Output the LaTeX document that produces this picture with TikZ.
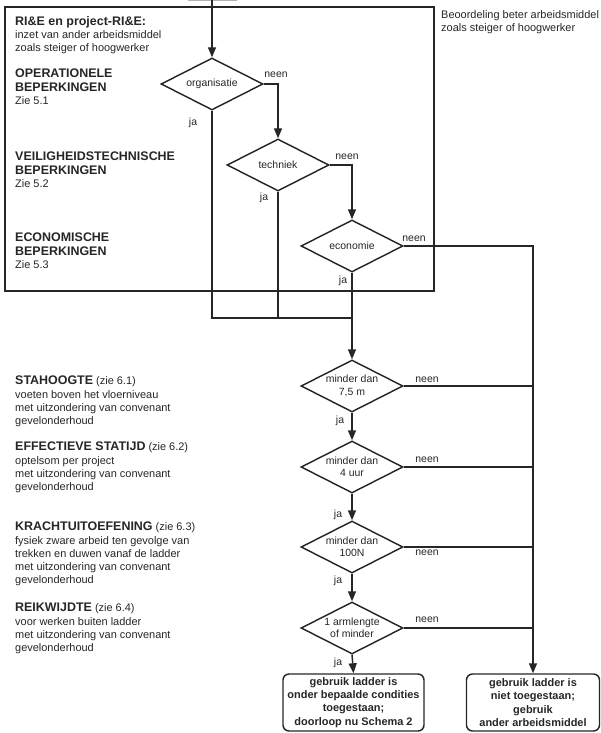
\documentclass[tikz,border=0pt]{standalone}
\usepackage{fontspec}
\setmainfont{Liberation Sans}
\usetikzlibrary{arrows.meta,shapes.geometric}
\definecolor{ink}{HTML}{262626}
\tikzset{
  ln/.style={draw=ink,line width=1.45bp},
  arr/.style={ln,-{Triangle[length=10bp,width=8bp]}},
  dia/.style={diamond,draw=ink,line width=1.45bp,inner sep=0pt,aspect=2,
    minimum width=102bp,minimum height=52bp,align=center,
    font=\fontsize{10.5}{12.5}\selectfont,text=ink},
  endbox/.style={rectangle,rounded corners=6bp,draw=ink,line width=1.45bp,
    inner sep=0pt,align=center,font=\fontsize{11}{13.3}\selectfont\bfseries,text=ink},
  lab/.style={font=\fontsize{10.5}{12}\selectfont,text=ink,inner sep=0pt},
  note/.style={anchor=north west,align=left,inner sep=0pt,text=ink,
    font=\fontsize{11}{13.3}\selectfont}
}
\newcommand{\hdtxt}[1]{{\fontsize{12.5}{14}\selectfont\bfseries #1}}
\begin{document}
\begin{tikzpicture}[x=1bp,y=-1bp]
\useasboundingbox (0,0) rectangle (601,733);
% frame
\draw[ln] (5,7) rectangle (434,291);
\draw[draw=gray!60,line width=1bp] (188,1) -- (237,1);
% diamonds
\node[dia] (org) at (212,84) {organisatie};
\node[dia] (tech) at (278,165) {techniek};
\node[dia] (econ) at (352,246) {economie};
\node[dia] (m75) at (352,386) {minder dan\\7,5 m};
\node[dia] (m4) at (352,467) {minder dan\\4 uur};
\node[dia] (m100) at (352,547) {minder dan\\100N};
\node[dia] (arm) at (352,628) {1 armlengte\\of minder};
% end boxes
\node[endbox,minimum width=141bp,minimum height=57bp] (lbox) at (353.5,702.5)
  {gebruik ladder is\\onder bepaalde condities\\toegestaan;\\doorloop nu Schema 2};
\node[endbox,minimum width=133bp,minimum height=57bp] (rbox) at (533,702.5)
  {gebruik ladder is\\niet toegestaan;\\gebruik\\ander arbeidsmiddel};
% connectors
\coordinate (top) at (212,0);
\coordinate (merge) at (352,318);
\draw[arr] (top) -- (org.north);
\draw[arr] (org.east) -| (tech.north);
\draw[arr] (tech.east) -| (econ.north);
\draw[ln] (org.south) |- (merge);
\draw[ln] (tech.south) -- (tech.south |- merge);
\draw[arr] (econ.south) -- (m75.north);
\draw[arr] (econ.east) -| (rbox.north);
\draw[ln] (m75.east) -- (m75.east -| rbox.north);
\draw[ln] (m4.east) -- (m4.east -| rbox.north);
\draw[ln] (m100.east) -- (m100.east -| rbox.north);
\draw[ln] (arm.east) -- (arm.east -| rbox.north);
\draw[arr] (m75.south) -- (m4.north);
\draw[arr] (m4.south) -- (m100.north);
\draw[arr] (m100.south) -- (arm.north);
\draw[arr] (arm.south) -- (lbox.north);
% labels
\node[lab] (l1) at (276,75) {neen};
\node[lab] (l2) at (193,123) {ja};
\node[lab] (l3) at (347,157) {neen};
\node[lab] (l4) at (264,198) {ja};
\node[lab] (l5) at (414,239) {neen};
\node[lab] (l6) at (343,281) {ja};
\node[lab] (l7) at (427,380) {neen};
\node[lab] (l8) at (340,421) {ja};
\node[lab] (l9) at (427,460) {neen};
\node[lab] (l10) at (338,515) {ja};
\node[lab] (l11) at (427,553) {neen};
\node[lab] (l12) at (338,581) {ja};
\node[lab] (l13) at (427,620) {neen};
\node[lab] (l14) at (338,663) {ja};
% notes
\node[note] (n0) at (15,16) {\hdtxt{RI\&E en project-RI\&E:}\\inzet van ander arbeidsmiddel\\zoals steiger of hoogwerker};
\node[note] (n1) at (15,69) {\hdtxt{OPERATIONELE}\\\hdtxt{BEPERKINGEN}\\Zie 5.1};
\node[note] (n2) at (15,152) {\hdtxt{VEILIGHEIDSTECHNISCHE}\\\hdtxt{BEPERKINGEN}\\Zie 5.2};
\node[note] (n3) at (15,233) {\hdtxt{ECONOMISCHE}\\\hdtxt{BEPERKINGEN}\\Zie 5.3};
\node[note] (n4) at (441,10) {Beoordeling beter arbeidsmiddel\\zoals steiger of hoogwerker};
\node[note] (n5) at (15,376) {\hdtxt{STAHOOGTE} (zie 6.1)\\voeten boven het vloerniveau\\met uitzondering van convenant\\gevelonderhoud};
\node[note] (n6) at (15,442) {\hdtxt{EFFECTIEVE STATIJD} (zie 6.2)\\optelsom per project\\met uitzondering van convenant\\gevelonderhoud};
\node[note] (n7) at (15,522) {\hdtxt{KRACHTUITOEFENING} (zie 6.3)\\fysiek zware arbeid ten gevolge van\\trekken en duwen  vanaf de ladder\\met uitzondering van convenant\\gevelonderhoud};
\node[note] (n8) at (15,603) {\hdtxt{REIKWIJDTE} (zie 6.4)\\voor werken buiten ladder\\met uitzondering van convenant\\gevelonderhoud};
\end{tikzpicture}
\end{document}
